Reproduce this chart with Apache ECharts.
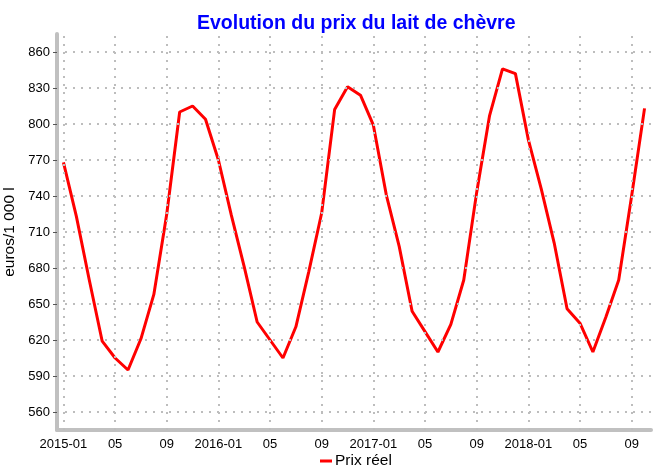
<!DOCTYPE html>
<html lang="fr">
<head>
<meta charset="UTF-8">
<title>Evolution du prix du lait de chèvre</title>
<script src="https://cdn.jsdelivr.net/npm/echarts@6/dist/echarts.min.js"></script>
<style>
  html, body { margin: 0; padding: 0; background: #fff; }
  #chart { width: 655px; height: 468px; }
</style>
</head>
<body>
<div id="chart"></div>
<script>
// mois de 2015-01 à 2018-10
var months = [];
for (var y = 2015; y <= 2018; y++) {
    for (var m = 1; m <= 12; m++) {
        if (y === 2018 && m > 10) break;
        months.push(y + '-' + (m < 10 ? '0' + m : m));
    }
}

// prix réel, euros / 1 000 l
var prixReel = [
    768, 723, 670, 619, 605, 595, 621, 658, 725, 810, 815, 804,
    770, 724, 681, 635, 620, 605, 631, 677, 726, 812, 831, 824,
    799, 741, 698, 644, 627, 610, 633, 670, 743, 807, 846, 842,
    787, 746, 701, 646, 634, 610, 639, 670, 740, 813
];

var yTicks = [560, 590, 620, 650, 680, 710, 740, 770, 800, 830, 860];
var xGridMonths = months.filter(function (d, i) { return i % 4 === 0; });

var chart = echarts.init(document.getElementById('chart'));

var dotted = { color: '#bdbdbd', width: 2, type: [2, 6] };

var option = {
    animation: false,
    textStyle: { fontFamily: 'Liberation Sans, Arial, sans-serif' },
    title: {
        text: 'Evolution du prix du lait de chèvre',
        left: 192,
        top: 9,
        textStyle: { color: '#0000ff', fontSize: 19.5, fontWeight: 'bold' }
    },
    legend: {
        data: ['Prix réel'],
        left: 320,
        top: 453,
        padding: 0,
        icon: 'rect',
        itemWidth: 12,
        itemHeight: 3,
        itemGap: 3,
        textStyle: { fontSize: 15.5, color: '#000', padding: [0, 0, 0, -2] }
    },
    grid: { left: 57, right: 4, top: 34, bottom: 38, containLabel: false, outerBoundsMode: 'none' },
    xAxis: {
        type: 'category',
        data: months,
        boundaryGap: true,
        axisLine: { lineStyle: { color: '#c0c0c0', width: 4 } },
        axisTick: { show: false },
        splitLine: { show: false },
        axisLabel: {
            interval: function (i) { return i % 4 === 0; },
            margin: 8,
            fontSize: 13,
            color: '#000',
            formatter: function (v) {
                return v.slice(5) === '01' ? v : v.slice(5);
            }
        }
    },
    yAxis: {
        type: 'value',
        min: 545,
        max: 875,
        name: 'euros/1 000 l',
        nameLocation: 'middle',
        nameGap: 33,
        nameTextStyle: { fontSize: 15.5, color: '#000' },
        axisLine: { show: true, lineStyle: { color: '#c0c0c0', width: 4 } },
        axisTick: { show: true, length: 4, customValues: yTicks, lineStyle: { color: '#555' } },
        splitLine: { show: false },
        axisLabel: { customValues: yTicks, margin: 7, fontSize: 13, color: '#000' }
    },
    series: [
        {
            name: 'grille',
            type: 'line',
            data: [],
            silent: true,
            z: 1,
            markLine: {
                silent: true,
                symbol: 'none',
                animation: false,
                label: { show: false },
                lineStyle: dotted,
                emphasis: { disabled: true },
                data: yTicks.map(function (v) { return { yAxis: v }; })
                    .concat(xGridMonths.map(function (d) { return { xAxis: d }; }))
            }
        },
        {
            name: 'Prix réel',
            type: 'line',
            data: prixReel,
            z: 3,
            showSymbol: false,
            symbol: 'none',
            lineStyle: { color: '#ff0000', width: 3 },
            itemStyle: { color: '#ff0000' }
        }
    ]
};

chart.setOption(option);
</script>
</body>
</html>
